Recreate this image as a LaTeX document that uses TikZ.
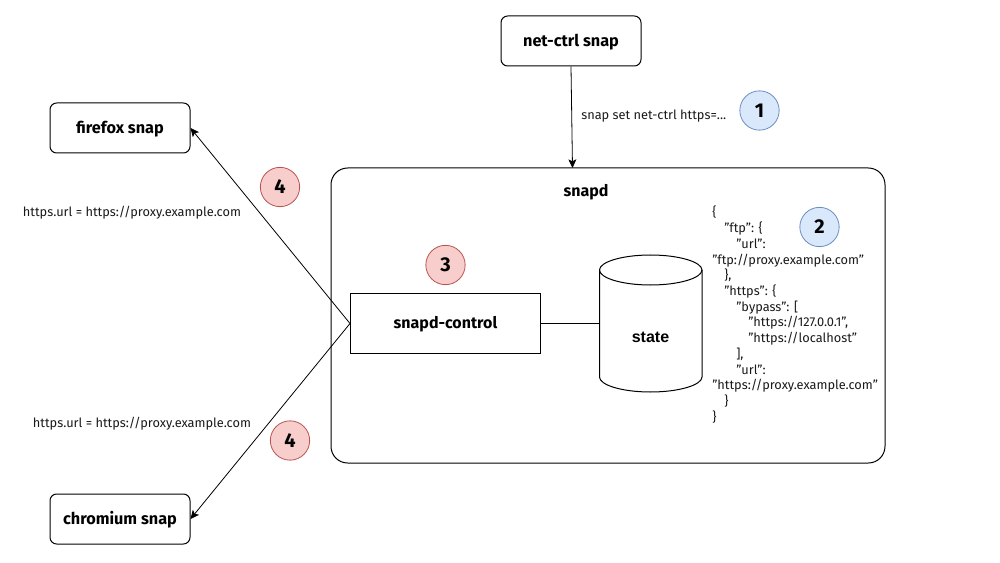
\documentclass[tikz,border=0pt]{standalone}
\usepackage{fontspec}
\setmainfont{Fira Sans}
\newfontfamily\statefont{Liberation Sans}
\usetikzlibrary{arrows.meta}
\definecolor{bluefill}{HTML}{DAE8FC}
\definecolor{blueline}{HTML}{6C8EBF}
\definecolor{redfill}{HTML}{F8CECC}
\definecolor{redline}{HTML}{B85450}
\definecolor{txt}{HTML}{1A1A1A}
\tikzset{
  px/.style={x=0.75pt,y=-0.75pt},
  line/.style={draw=black,line width=0.75pt},
  boxtext/.style={text height=10pt,text depth=2pt},
  snapbox/.style={line,boxtext,rounded corners=5pt,minimum width=105pt,minimum height=37.5pt,inner sep=0pt,font=\fontsize{12.2}{14}\selectfont\bfseries},
  note/.style={font=\fontsize{9.6}{11}\selectfont,text=txt,inner sep=0pt},
  badgeblue/.style={circle,draw=blueline,fill=bluefill,line width=0.6pt,minimum size=29.5pt,inner sep=0pt,font=\fontsize{15}{16}\selectfont\bfseries},
  badgered/.style={circle,draw=redline,fill=redfill,line width=0.6pt,minimum size=29.5pt,inner sep=0pt,font=\fontsize{15}{16}\selectfont\bfseries},
  arrow/.style={draw=black,line width=0.6pt,-{Stealth[length=6.5pt,width=6pt,inset=1.5pt]},shorten >=0pt}
}
\begin{document}
\begin{tikzpicture}[px]
\useasboundingbox (0,0) rectangle (1000,563);
\node[line,rounded corners=12.5pt,minimum width=415.5pt,minimum height=221.25pt,inner sep=0pt] (snapd) at (608,315.5) {};
\node[font=\fontsize{12}{14}\selectfont\bfseries,inner sep=0pt] (snapdlabel) at (586,192) {snapd};
\node[snapbox] (net) at (571,41) {net-ctrl snap};
\node[snapbox] (firefox) at (120,128) {firefox snap};
\node[snapbox] (chromium) at (120,519) {chromium snap};
\node[line,boxtext,minimum width=142.5pt,minimum height=44.5pt,inner sep=0pt,font=\fontsize{12}{14}\selectfont\bfseries] (control) at (445.5,323.5) {snapd-control};
% cylinder
\node[minimum width=76.5pt,minimum height=102.75pt,inner sep=0pt] (state) at (650.5,323.5) {};
\draw[line] (599.5,270) .. controls (599.5,262) and (622,255) .. (650.5,255) .. controls (679,255) and (702,262) .. (702,270)
  -- (702,377) .. controls (702,385) and (679,392) .. (650.5,392) .. controls (622,392) and (599.5,385) .. (599.5,377) -- cycle;
\draw[line] (599.5,270) .. controls (599.5,278) and (622,285) .. (650.5,285) .. controls (679,285) and (702,278) .. (702,270);
\node[font=\statefont\fontsize{12}{14}\selectfont\bfseries,inner sep=0pt] (statelabel) at (650.5,337) {state};
% connectors
\coordinate (snapdtop) at (572.5,168);
\draw[arrow] (net.south) -- (snapdtop);
\draw[arrow] (control.west) -- (firefox.east);
\draw[arrow] (control.west) -- (chromium.east);
\draw[line] (control.east) -- (state.west);
% notes
\node[note,anchor=west] (setnote) at (581,116.5) {snap set net-ctrl https=...};
\node[note] (urla) at (132,213) {https.url = https://proxy.example.com};
\node[note] (urlb) at (142,423.5) {https.url = https://proxy.example.com};
\node[note,anchor=north west,align=left,font=\fontsize{9.6}{11.78}\selectfont] (json) at (712,206) {%
\{\\
\hspace*{9pt}"ftp": \{\\
\hspace*{18pt}"url":\\
"ftp://proxy.example.com"\\
\hspace*{9pt}\},\\
\hspace*{9pt}"https": \{\\
\hspace*{18pt}"bypass": [\\
\hspace*{27pt}"https://127.0.0.1",\\
\hspace*{27pt}"https://localhost"\\
\hspace*{18pt}],\\
\hspace*{18pt}"url":\\
"https://proxy.example.com"\\
\hspace*{9pt}\}\\
\}};
% badges
\node[badgeblue] (b1) at (759.5,110.5) {1};
\node[badgeblue] (b2) at (819.5,227) {2};
\node[badgered] (b3) at (445.5,265) {3};
\node[badgered] (b4a) at (280,187) {4};
\node[badgered] (b4b) at (290,440.5) {4};
\end{tikzpicture}
\end{document}
